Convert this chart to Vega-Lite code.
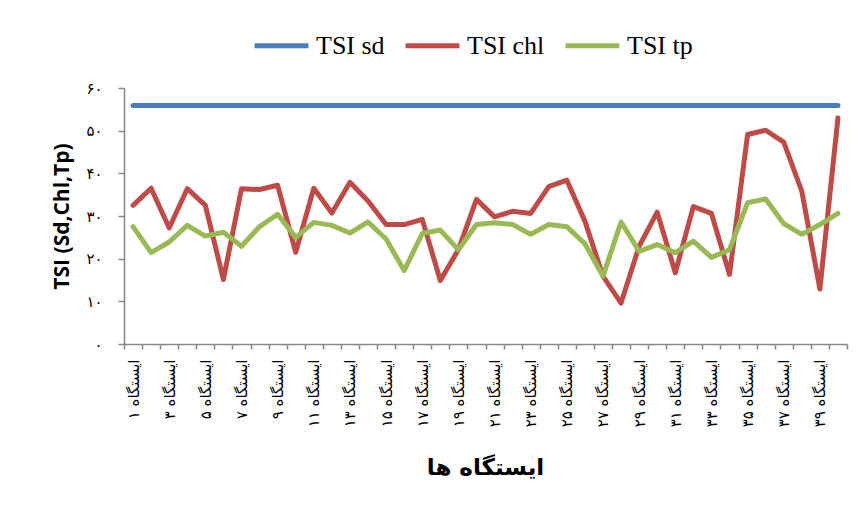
{
  "$schema": "https://vega.github.io/schema/vega-lite/v6.json",
  "width": 723,
  "height": 256,
  "autosize": {"type": "none"},
  "padding": {"left": 124, "top": 88, "right": 12, "bottom": 176},
  "background": "white",
  "config": {"view": {"stroke": null}},
  "data": {"values": [
    {"station":"ایستگاه ۱","n":1,"series":"TSI sd","value":55.9},
    {"station":"ایستگاه ۲","n":2,"series":"TSI sd","value":55.9},
    {"station":"ایستگاه ۳","n":3,"series":"TSI sd","value":55.9},
    {"station":"ایستگاه ۴","n":4,"series":"TSI sd","value":55.9},
    {"station":"ایستگاه ۵","n":5,"series":"TSI sd","value":55.9},
    {"station":"ایستگاه ۶","n":6,"series":"TSI sd","value":55.9},
    {"station":"ایستگاه ۷","n":7,"series":"TSI sd","value":55.9},
    {"station":"ایستگاه ۸","n":8,"series":"TSI sd","value":55.9},
    {"station":"ایستگاه ۹","n":9,"series":"TSI sd","value":55.9},
    {"station":"ایستگاه ۱۰","n":10,"series":"TSI sd","value":55.9},
    {"station":"ایستگاه ۱۱","n":11,"series":"TSI sd","value":55.9},
    {"station":"ایستگاه ۱۲","n":12,"series":"TSI sd","value":55.9},
    {"station":"ایستگاه ۱۳","n":13,"series":"TSI sd","value":55.9},
    {"station":"ایستگاه ۱۴","n":14,"series":"TSI sd","value":55.9},
    {"station":"ایستگاه ۱۵","n":15,"series":"TSI sd","value":55.9},
    {"station":"ایستگاه ۱۶","n":16,"series":"TSI sd","value":55.9},
    {"station":"ایستگاه ۱۷","n":17,"series":"TSI sd","value":55.9},
    {"station":"ایستگاه ۱۸","n":18,"series":"TSI sd","value":55.9},
    {"station":"ایستگاه ۱۹","n":19,"series":"TSI sd","value":55.9},
    {"station":"ایستگاه ۲۰","n":20,"series":"TSI sd","value":55.9},
    {"station":"ایستگاه ۲۱","n":21,"series":"TSI sd","value":55.9},
    {"station":"ایستگاه ۲۲","n":22,"series":"TSI sd","value":55.9},
    {"station":"ایستگاه ۲۳","n":23,"series":"TSI sd","value":55.9},
    {"station":"ایستگاه ۲۴","n":24,"series":"TSI sd","value":55.9},
    {"station":"ایستگاه ۲۵","n":25,"series":"TSI sd","value":55.9},
    {"station":"ایستگاه ۲۶","n":26,"series":"TSI sd","value":55.9},
    {"station":"ایستگاه ۲۷","n":27,"series":"TSI sd","value":55.9},
    {"station":"ایستگاه ۲۸","n":28,"series":"TSI sd","value":55.9},
    {"station":"ایستگاه ۲۹","n":29,"series":"TSI sd","value":55.9},
    {"station":"ایستگاه ۳۰","n":30,"series":"TSI sd","value":55.9},
    {"station":"ایستگاه ۳۱","n":31,"series":"TSI sd","value":55.9},
    {"station":"ایستگاه ۳۲","n":32,"series":"TSI sd","value":55.9},
    {"station":"ایستگاه ۳۳","n":33,"series":"TSI sd","value":55.9},
    {"station":"ایستگاه ۳۴","n":34,"series":"TSI sd","value":55.9},
    {"station":"ایستگاه ۳۵","n":35,"series":"TSI sd","value":55.9},
    {"station":"ایستگاه ۳۶","n":36,"series":"TSI sd","value":55.9},
    {"station":"ایستگاه ۳۷","n":37,"series":"TSI sd","value":55.9},
    {"station":"ایستگاه ۳۸","n":38,"series":"TSI sd","value":55.9},
    {"station":"ایستگاه ۳۹","n":39,"series":"TSI sd","value":55.9},
    {"station":"ایستگاه ۴۰","n":40,"series":"TSI sd","value":55.9},
    {"station":"ایستگاه ۱","n":1,"series":"TSI chl","value":32.5},
    {"station":"ایستگاه ۲","n":2,"series":"TSI chl","value":36.5},
    {"station":"ایستگاه ۳","n":3,"series":"TSI chl","value":27.2},
    {"station":"ایستگاه ۴","n":4,"series":"TSI chl","value":36.4},
    {"station":"ایستگاه ۵","n":5,"series":"TSI chl","value":32.5},
    {"station":"ایستگاه ۶","n":6,"series":"TSI chl","value":15.1},
    {"station":"ایستگاه ۷","n":7,"series":"TSI chl","value":36.4},
    {"station":"ایستگاه ۸","n":8,"series":"TSI chl","value":36.2},
    {"station":"ایستگاه ۹","n":9,"series":"TSI chl","value":37.2},
    {"station":"ایستگاه ۱۰","n":10,"series":"TSI chl","value":21.5},
    {"station":"ایستگاه ۱۱","n":11,"series":"TSI chl","value":36.5},
    {"station":"ایستگاه ۱۲","n":12,"series":"TSI chl","value":30.7},
    {"station":"ایستگاه ۱۳","n":13,"series":"TSI chl","value":37.9},
    {"station":"ایستگاه ۱۴","n":14,"series":"TSI chl","value":33.5},
    {"station":"ایستگاه ۱۵","n":15,"series":"TSI chl","value":28.0},
    {"station":"ایستگاه ۱۶","n":16,"series":"TSI chl","value":28.0},
    {"station":"ایستگاه ۱۷","n":17,"series":"TSI chl","value":29.2},
    {"station":"ایستگاه ۱۸","n":18,"series":"TSI chl","value":14.9},
    {"station":"ایستگاه ۱۹","n":19,"series":"TSI chl","value":22.1},
    {"station":"ایستگاه ۲۰","n":20,"series":"TSI chl","value":33.9},
    {"station":"ایستگاه ۲۱","n":21,"series":"TSI chl","value":29.8},
    {"station":"ایستگاه ۲۲","n":22,"series":"TSI chl","value":31.1},
    {"station":"ایستگاه ۲۳","n":23,"series":"TSI chl","value":30.6},
    {"station":"ایستگاه ۲۴","n":24,"series":"TSI chl","value":36.9},
    {"station":"ایستگاه ۲۵","n":25,"series":"TSI chl","value":38.4},
    {"station":"ایستگاه ۲۶","n":26,"series":"TSI chl","value":28.8},
    {"station":"ایستگاه ۲۷","n":27,"series":"TSI chl","value":15.9},
    {"station":"ایستگاه ۲۸","n":28,"series":"TSI chl","value":9.6},
    {"station":"ایستگاه ۲۹","n":29,"series":"TSI chl","value":22.9},
    {"station":"ایستگاه ۳۰","n":30,"series":"TSI chl","value":30.9},
    {"station":"ایستگاه ۳۱","n":31,"series":"TSI chl","value":16.7},
    {"station":"ایستگاه ۳۲","n":32,"series":"TSI chl","value":32.2},
    {"station":"ایستگاه ۳۳","n":33,"series":"TSI chl","value":30.6},
    {"station":"ایستگاه ۳۴","n":34,"series":"TSI chl","value":16.3},
    {"station":"ایستگاه ۳۵","n":35,"series":"TSI chl","value":49.1},
    {"station":"ایستگاه ۳۶","n":36,"series":"TSI chl","value":50.1},
    {"station":"ایستگاه ۳۷","n":37,"series":"TSI chl","value":47.3},
    {"station":"ایستگاه ۳۸","n":38,"series":"TSI chl","value":35.8},
    {"station":"ایستگاه ۳۹","n":39,"series":"TSI chl","value":12.9},
    {"station":"ایستگاه ۴۰","n":40,"series":"TSI chl","value":53.0},
    {"station":"ایستگاه ۱","n":1,"series":"TSI tp","value":27.5},
    {"station":"ایستگاه ۲","n":2,"series":"TSI tp","value":21.4},
    {"station":"ایستگاه ۳","n":3,"series":"TSI tp","value":23.9},
    {"station":"ایستگاه ۴","n":4,"series":"TSI tp","value":27.8},
    {"station":"ایستگاه ۵","n":5,"series":"TSI tp","value":25.3},
    {"station":"ایستگاه ۶","n":6,"series":"TSI tp","value":26.2},
    {"station":"ایستگاه ۷","n":7,"series":"TSI tp","value":22.9},
    {"station":"ایستگاه ۸","n":8,"series":"TSI tp","value":27.5},
    {"station":"ایستگاه ۹","n":9,"series":"TSI tp","value":30.4},
    {"station":"ایستگاه ۱۰","n":10,"series":"TSI tp","value":25.0},
    {"station":"ایستگاه ۱۱","n":11,"series":"TSI tp","value":28.5},
    {"station":"ایستگاه ۱۲","n":12,"series":"TSI tp","value":27.8},
    {"station":"ایستگاه ۱۳","n":13,"series":"TSI tp","value":26.0},
    {"station":"ایستگاه ۱۴","n":14,"series":"TSI tp","value":28.6},
    {"station":"ایستگاه ۱۵","n":15,"series":"TSI tp","value":24.6},
    {"station":"ایستگاه ۱۶","n":16,"series":"TSI tp","value":17.2},
    {"station":"ایستگاه ۱۷","n":17,"series":"TSI tp","value":25.9},
    {"station":"ایستگاه ۱۸","n":18,"series":"TSI tp","value":26.7},
    {"station":"ایستگاه ۱۹","n":19,"series":"TSI tp","value":22.1},
    {"station":"ایستگاه ۲۰","n":20,"series":"TSI tp","value":28.0},
    {"station":"ایستگاه ۲۱","n":21,"series":"TSI tp","value":28.4},
    {"station":"ایستگاه ۲۲","n":22,"series":"TSI tp","value":28.0},
    {"station":"ایستگاه ۲۳","n":23,"series":"TSI tp","value":25.7},
    {"station":"ایستگاه ۲۴","n":24,"series":"TSI tp","value":28.0},
    {"station":"ایستگاه ۲۵","n":25,"series":"TSI tp","value":27.5},
    {"station":"ایستگاه ۲۶","n":26,"series":"TSI tp","value":23.5},
    {"station":"ایستگاه ۲۷","n":27,"series":"TSI tp","value":15.9},
    {"station":"ایستگاه ۲۸","n":28,"series":"TSI tp","value":28.6},
    {"station":"ایستگاه ۲۹","n":29,"series":"TSI tp","value":21.7},
    {"station":"ایستگاه ۳۰","n":30,"series":"TSI tp","value":23.3},
    {"station":"ایستگاه ۳۱","n":31,"series":"TSI tp","value":21.4},
    {"station":"ایستگاه ۳۲","n":32,"series":"TSI tp","value":24.1},
    {"station":"ایستگاه ۳۳","n":33,"series":"TSI tp","value":20.3},
    {"station":"ایستگاه ۳۴","n":34,"series":"TSI tp","value":22.1},
    {"station":"ایستگاه ۳۵","n":35,"series":"TSI tp","value":33.1},
    {"station":"ایستگاه ۳۶","n":36,"series":"TSI tp","value":34.0},
    {"station":"ایستگاه ۳۷","n":37,"series":"TSI tp","value":28.2},
    {"station":"ایستگاه ۳۸","n":38,"series":"TSI tp","value":25.7},
    {"station":"ایستگاه ۳۹","n":39,"series":"TSI tp","value":28.0},
    {"station":"ایستگاه ۴۰","n":40,"series":"TSI tp","value":30.6}
  ]},
  "mark": {"type": "line", "strokeWidth": 5, "strokeCap": "round", "strokeJoin": "round"},
  "encoding": {
    "x": {
      "field": "station",
      "type": "ordinal",
      "sort": {"field": "n", "op": "min"},
      "scale": {"type": "band", "paddingInner": 0, "paddingOuter": 0},
      "axis": {
        "title": "ایستگاه ها",
        "tickBand": "extent",
        "labelAngle": -90,
        "labelExpr": "indexof('۱۳۵۷۹', slice(datum.label, -1)) >= 0 ? datum.label : ''",
        "labelFont": "DejaVu Sans",
        "labelFontSize": 15,
        "labelColor": "black",
        "labelPadding": 10,
        "labelOverlap": false,
        "domainColor": "#868686",
        "domainWidth": 1.5,
        "tickColor": "#868686",
        "tickWidth": 1.5,
        "tickSize": 5,
        "titleFont": "DejaVu Sans",
        "titleFontWeight": "bold",
        "titleFontSize": 23,
        "titleColor": "black",
        "titleX": 361,
        "titleY": 123,
        "titleAlign": "center",
        "titleBaseline": "middle"
      }
    },
    "y": {
      "field": "value",
      "type": "quantitative",
      "scale": {"domain": [0, 60], "nice": false},
      "axis": {
        "title": "TSI (Sd,Chl,Tp)",
        "values": [0, 10, 20, 30, 40, 50, 60],
        "grid": false,
        "labelExpr": "replace(replace(replace(replace(replace(replace(replace(datum.label,'0','۰'),'1','۱'),'2','۲'),'3','۳'),'4','۴'),'5','۵'),'6','۶')",
        "labelFont": "DejaVu Sans",
        "labelFontSize": 15,
        "labelColor": "black",
        "labelPadding": 16,
        "domainColor": "#868686",
        "domainWidth": 1.5,
        "tickColor": "#868686",
        "tickWidth": 1.5,
        "tickSize": 6,
        "titleFont": "Open Sans",
        "titleFontWeight": "bold",
        "titleFontSize": 21,
        "titleColor": "black",
        "titleAngle": -90,
        "titleX": -62,
        "titleY": 128,
        "titleAlign": "center",
        "titleBaseline": "middle"
      }
    },
    "color": {
      "field": "series",
      "type": "nominal",
      "sort": ["TSI sd", "TSI chl", "TSI tp"],
      "scale": {"domain": ["TSI sd", "TSI chl", "TSI tp"], "range": ["#4A7EBB", "#BE4B48", "#98B954"]},
      "legend": {
        "title": null,
        "orient": "none",
        "direction": "horizontal",
        "legendX": 128,
        "legendY": -72,
        "symbolType": "stroke",
        "symbolSize": 2900,
        "symbolStrokeWidth": 5,
        "labelFont": "Liberation Serif",
        "labelFontSize": 26,
        "labelColor": "black",
        "labelOffset": 5,
        "columnPadding": 10
      }
    }
  }
}
